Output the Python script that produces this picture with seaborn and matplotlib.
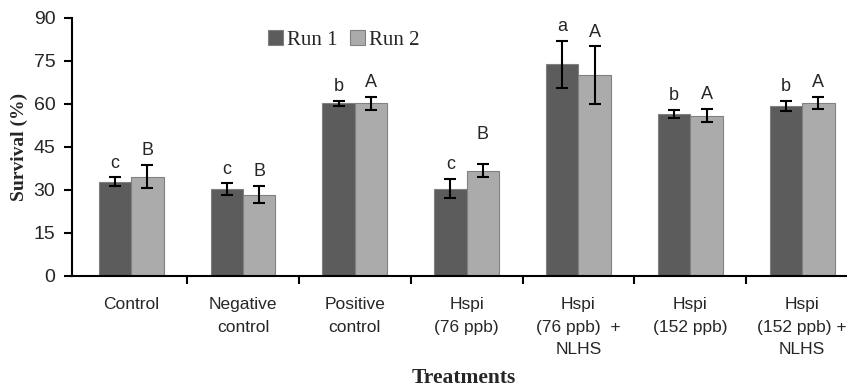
import numpy as np
import pandas as pd
import seaborn as sns
import matplotlib.pyplot as plt

treatments = ["Control", "Negative\ncontrol", "Positive\ncontrol", "Hspi\n(76 ppb)",
              "Hspi\n(76 ppb)  +\nNLHS", "Hspi\n(152 ppb)", "Hspi\n(152 ppb) +\nNLHS"]
run1 = [32.9, 30.3, 60.2, 30.5, 73.8, 56.5, 59.3]
run2 = [34.6, 28.3, 60.2, 36.7, 70.1, 55.9, 60.4]
err1 = [1.5, 2.0, 1.0, 3.3, 8.3, 1.4, 1.7]
err2 = [4.0, 3.0, 2.3, 2.2, 10.0, 2.3, 2.1]
letters1 = ["c", "c", "b", "c", "a", "b", "b"]
letters2 = ["B", "B", "A", "B", "A", "A", "A"]

df = pd.DataFrame({
    "Treatment": treatments * 2,
    "Survival": run1 + run2,
    "Run": ["Run 1"] * 7 + ["Run 2"] * 7,
})

sns.set_style("white")
plt.rcParams["font.family"] = ["Liberation Sans", "DejaVu Sans"]

fig = plt.figure(figsize=(8.47, 3.88), dpi=100)
ax = fig.add_axes([0.085, 0.2887, 0.928, 0.665])

sns.barplot(data=df, x="Treatment", y="Survival", hue="Run", order=treatments,
            palette=["#5c5c5c", "#ababab"], width=0.58, errorbar=None,
            edgecolor="#808080", linewidth=0.8, ax=ax)

for cont, errs, labs in zip(ax.containers, [err1, err2], [letters1, letters2]):
    for i, (bar, e, lab) in enumerate(zip(cont, errs, labs)):
        xc = bar.get_x() + bar.get_width() / 2
        h = bar.get_height()
        ax.errorbar(xc, h, yerr=e, color="black", capsize=4, elinewidth=1.5,
                    capthick=1.5, zorder=5)
        lift = 5
        if lab == "B" and i == 3:
            lift = 10.5
        ax.text(xc, h + e + lift, lab, ha="center", va="center", fontsize=13)

ax.set_ylim(0, 90)
ax.set_yticks(range(0, 91, 15))
ax.set_xlim(-0.53, 6.5)
ax.set_xticks(np.arange(0.5, 6.5, 1))
ax.set_xticklabels([])
ax.set_xticks(range(7), minor=True)
ax.set_xticklabels(treatments, minor=True, fontsize=12.5, linespacing=1.65)
ax.tick_params(axis="x", which="major", direction="out", length=6, width=1.5,
               color="black", bottom=True)
ax.tick_params(axis="x", which="minor", length=0, pad=15)
ax.tick_params(axis="y", direction="out", length=6, width=1.5, color="black",
               left=True, labelsize=14, pad=6)

for s in ["top", "right"]:
    ax.spines[s].set_visible(False)
for s in ["left", "bottom"]:
    ax.spines[s].set_color("black")
    ax.spines[s].set_linewidth(1.5)

ax.set_ylabel("Survival (%)", fontsize=14, fontweight="bold",
              family="Liberation Serif", labelpad=4)
ax.set_xlabel("")
fig.text(0.548, 0.0, "Treatments", ha="center", va="bottom", fontsize=15.5,
         fontweight="bold", family="Liberation Serif")

handles, labels = ax.get_legend_handles_labels()
ax.legend(handles, labels, loc="center", bbox_to_anchor=(0.406, 0.897),
          bbox_transform=fig.transFigure, ncol=2, frameon=False,
          handlelength=0.7, handleheight=0.7, handletextpad=0.2,
          columnspacing=0.6, prop={"family": "Liberation Serif", "size": 15})

fig.savefig("out.png", dpi=100)
